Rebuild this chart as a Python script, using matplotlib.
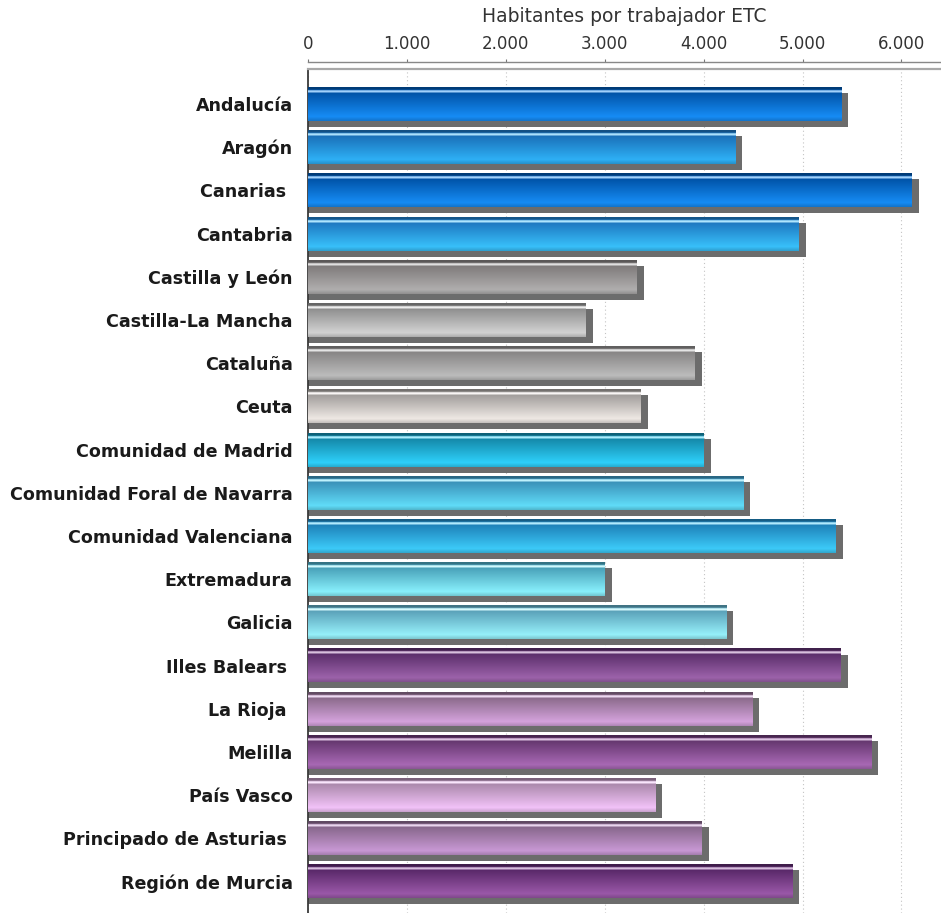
import matplotlib

matplotlib.use("Agg")
import matplotlib.pyplot as plt
import matplotlib.transforms as mtransforms
import numpy as np
from matplotlib.colors import to_rgb
from matplotlib.lines import Line2D

regions = [
    "Andalucía", "Aragón", "Canarias ", "Cantabria", "Castilla y León",
    "Castilla-La Mancha", "Cataluña", "Ceuta", "Comunidad de Madrid",
    "Comunidad Foral de Navarra", "Comunidad Valenciana", "Extremadura",
    "Galicia", "Illes Balears ", "La Rioja ", "Melilla", "País Vasco",
    "Principado de Asturias ", "Región de Murcia",
]
habitantes = [
    5392, 4322, 6102, 4964, 3324, 2807, 3911, 3366, 4000, 4402,
    5338, 3000, 4230, 5384, 4490, 5695, 3512, 3982, 4897,
]
x_ticks = [0, 1000, 2000, 3000, 4000, 5000, 6000]
x_tick_labels = ["0", "1.000", "2.000", "3.000", "4.000", "5.000", "6.000"]

# top / bottom colours of each bar face
face_top = [
    "#0052a6", "#1a6fb8", "#0052a6", "#1e78c0", "#7e7a7a", "#8e8e8e",
    "#868484", "#a09c9a", "#1488a8", "#3a90b8", "#1e80b8", "#48a0b8",
    "#5aa0b8", "#5a2e6a", "#8a6a8a", "#64366e", "#aa88aa", "#86668a",
    "#582868",
]
face_bottom = [
    "#168cf5", "#2eb0f5", "#168cf5", "#38c0fa", "#b0aeae", "#d2d2d2",
    "#bcbcbc", "#eee8e4", "#2ed0fa", "#60dcf8", "#3ccaf8", "#88f0fc",
    "#96f0fa", "#9c62aa", "#d4a2dc", "#a868b4", "#f2c2f8", "#c898d4",
    "#9a58a8",
]


def bar_gradient(top, bottom, rows=136):
    c0 = np.array(to_rgb(top))
    c1 = np.array(to_rgb(bottom))
    edge = c0 * 0.72
    shine = c1 + (1 - c1) * 0.6
    grad = np.zeros((rows, 1, 3))
    for i, t in enumerate(np.linspace(0, 1, rows)):
        if t < 0.07:
            col = edge
        elif t < 0.09:
            col = c0
        elif t < 0.16:
            col = shine
        else:
            s = (t - 0.16) / 0.84
            if s < 0.85:
                col = c0 + (c1 - c0) * (s / 0.85)
            else:
                col = c1 * (1 - 0.18 * (s - 0.85) / 0.15)
        grad[i, 0] = np.clip(col, 0, 1)
    return grad


fig = plt.figure(figsize=(9.41, 9.13), dpi=100)
ax = fig.add_axes([308 / 941, 0, 1 - 308 / 941, 1 - 69 / 913])

bar_h = 0.787
shadow_down = ax.transData + mtransforms.ScaledTranslation(0, -6 / 100, fig.dpi_scale_trans)
shadow = ax.transData + mtransforms.ScaledTranslation(7 / 100, -6 / 100, fig.dpi_scale_trans)
for i, (value, top, bottom) in enumerate(zip(habitantes, face_top, face_bottom)):
    ax.barh(i, value, height=bar_h, left=0, color="#6c6c6c", transform=shadow_down, zorder=2)
    ax.barh(i, value, height=bar_h, left=0, color="#6c6c6c", transform=shadow, zorder=2)
    ax.imshow(
        bar_gradient(top, bottom),
        extent=(0, value, i + bar_h / 2, i - bar_h / 2),
        aspect="auto",
        interpolation="bilinear",
        zorder=3,
    )

ax.set_xlim(0, 6400)
ax.set_ylim(18.73, -0.81)
ax.set_aspect("auto")

ax.xaxis.tick_top()
ax.set_xticks(x_ticks, labels=x_tick_labels)
ax.tick_params(axis="x", direction="out", length=2.5, width=0.8, color="#777777",
               pad=4, labelsize=12, labelcolor="#333333")
ax.set_yticks(range(len(regions)), labels=regions)
ax.tick_params(axis="y", length=0, pad=11, labelsize=12.6, labelcolor="#1a1a1a")
for label in ax.get_yticklabels():
    label.set_fontweight("bold")

ax.xaxis.grid(True, linestyle=(0, (1, 2.5)), color="#c4c4c4", linewidth=0.8)
ax.set_axisbelow(True)

ax.spines["top"].set_position(("outward", 5))
ax.spines["top"].set_color("#888888")
ax.spines["top"].set_linewidth(1.0)
ax.spines["left"].set_color("#3a3a3a")
ax.spines["left"].set_linewidth(1.3)
ax.spines["right"].set_visible(False)
ax.spines["bottom"].set_visible(False)
ax.add_line(Line2D([0, 1], [1, 1], transform=ax.transAxes, color="#a8a8a8",
                   linewidth=1.6, zorder=5, clip_on=False))

fig.text((308 + 941) / 2 / 941, 1 - 17 / 913, "Habitantes por trabajador ETC",
         ha="center", va="center", fontsize=13.5, color="#333333")

fig.savefig("out.png", dpi=100)
